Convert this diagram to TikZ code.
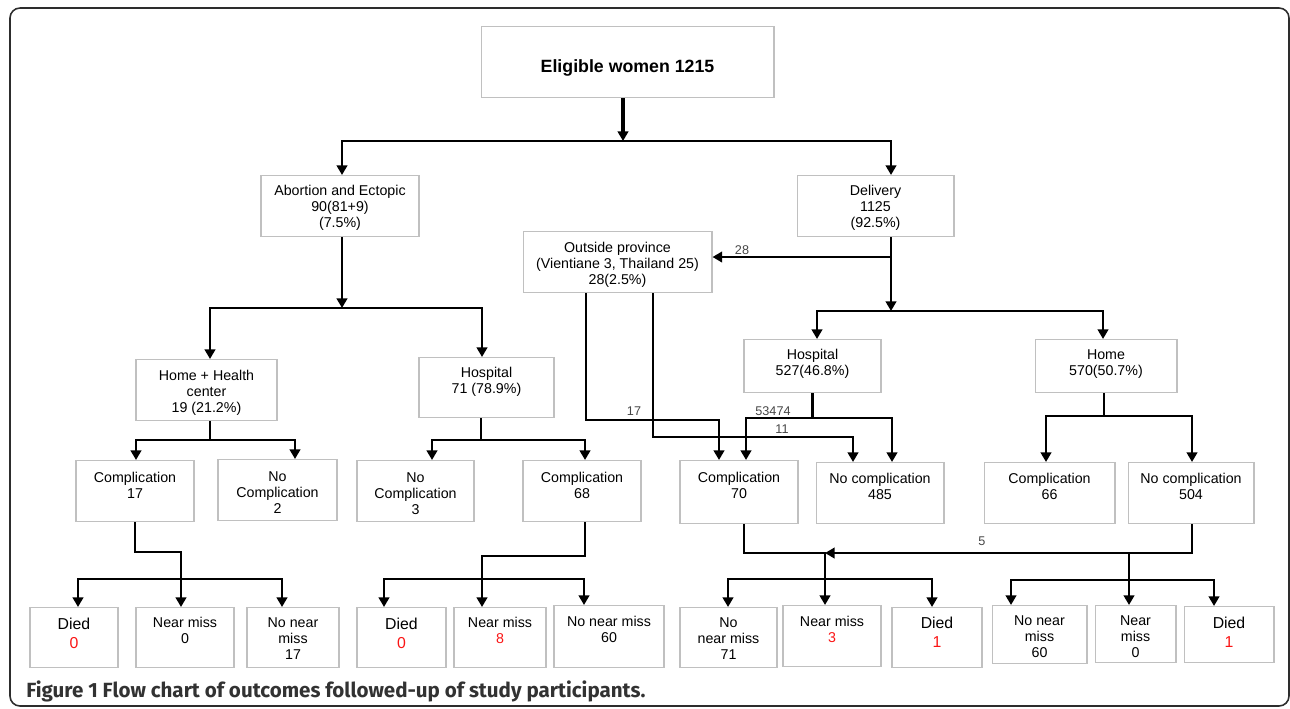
\documentclass[tikz,border=0pt]{standalone}
\usepackage{fontspec}
\setmainfont{Liberation Sans}
\newfontfamily\fcCapFont{Fira Sans}
\usepackage{tikz}
\usetikzlibrary{arrows.meta}
\definecolor{fcedge}{RGB}{192,192,192}
\definecolor{fcred}{RGB}{250,20,20}
\definecolor{fclabel}{RGB}{70,70,70}
\definecolor{fcframe}{RGB}{45,45,45}
\definecolor{fccaption}{RGB}{50,50,50}
\tikzset{
  fcBox/.style={draw=fcedge, line width=0.6pt, anchor=north, align=center,
                inner sep=0pt, font=\fontsize{8.1}{9.1}\selectfont},
  fcDied/.style={fcBox, font=\fontsize{9}{10.6}\selectfont},
  fcTop/.style={fcBox, font=\bfseries\fontsize{10.1}{12}\selectfont},
  fcLine/.style={line width=1.6pt},
  fcBold/.style={-{Triangle[length=5.5pt,width=6pt]}, line width=2.2pt},
  fcArrow/.style={-{Triangle[length=5.5pt,width=6pt]}, line width=1.6pt},
  fcBoth/.style={{Triangle[length=5.5pt,width=6pt]}-{Triangle[length=5.5pt,width=6pt]},
                 line width=1.6pt},
  fcCount/.style={text=fclabel, font=\fontsize{7.2}{8}\selectfont, inner sep=0pt},
  fcFrame/.style={draw=fcframe, line width=0.9pt, rounded corners=0.2cm},
  fcCaption/.style={text=fccaption, font=\fcCapFont\bfseries\fontsize{11.7}{13}\selectfont,
                    inner sep=0pt, anchor=base west}
}

\begin{document}
\begin{tikzpicture}[x=0.02cm,y=-0.02cm]
  \useasboundingbox (0,0) rectangle (1290,708);
  \draw[fcFrame] (10,8) rectangle (1289,706);

  % first two levels
  \node[fcTop] (elig) at (627.5,26) [minimum width=5.86cm, text height=0.92cm, text depth=0.50cm] {Eligible women 1215};
  \node[fcBox] (abort) at (340,175) [minimum width=3.16cm, text height=1.04cm, text depth=0.18cm] {Abortion and Ectopic\\90(81+9)\\(7.5\%)};
  \node[fcBox] (deliv) at (875.5,175) [minimum width=3.14cm, text height=1.04cm, text depth=0.18cm] {Delivery\\1125\\(92.5\%)};
  \node[fcBox] (outprov) at (617.5,231) [minimum width=3.78cm, text height=1.06cm, text depth=0.16cm] {Outside province\\(Vientiane 3, Thailand 25)\\28(2.5\%)};

  % place of delivery
  \node[fcBox] (hhc) at (206.5,359) [minimum width=2.82cm, text height=1.06cm, text depth=0.16cm] {Home + Health\\center\\19 (21.2\%)};
  \node[fcBox] (hosp71) at (486.5,357) [minimum width=2.70cm, text height=0.72cm, text depth=0.48cm] {Hospital\\71 (78.9\%)};
  \node[fcBox] (hosp527) at (812.5,339) [minimum width=2.74cm, text height=0.72cm, text depth=0.34cm] {Hospital\\527(46.8\%)};
  \node[fcBox] (home) at (1106,339) [minimum width=2.84cm, text height=0.72cm, text depth=0.34cm] {Home\\570(50.7\%)};

  % complications
  \node[fcBox] (comp17) at (135,460) [minimum width=2.36cm, text height=0.76cm, text depth=0.46cm] {Complication\\17};
  \node[fcBox] (nocomp2) at (277.5,459) [minimum width=2.38cm, text height=1.08cm, text depth=0.14cm] {No\\Complication\\2};
  \node[fcBox] (nocomp3) at (415.5,460) [minimum width=2.34cm, text height=1.08cm, text depth=0.14cm] {No\\Complication\\3};
  \node[fcBox] (comp68) at (582,460) [minimum width=2.36cm, text height=0.76cm, text depth=0.46cm] {Complication\\68};
  \node[fcBox] (comp70) at (739,460) [minimum width=2.36cm, text height=0.76cm, text depth=0.50cm] {Complication\\70};
  \node[fcBox] (nocomp485) at (880,462) [minimum width=2.56cm, text height=0.74cm, text depth=0.48cm] {No complication\\485};
  \node[fcBox] (comp66) at (1049.5,462) [minimum width=2.62cm, text height=0.74cm, text depth=0.48cm] {Complication\\66};
  \node[fcBox] (nocomp504) at (1191,462) [minimum width=2.52cm, text height=0.74cm, text depth=0.48cm] {No complication\\504};

  % outcomes
  \node[fcDied] (died0a) at (74,607) [minimum width=1.76cm, text height=0.81cm, text depth=0.39cm] {Died\\\textcolor{fcred}{0}};
  \node[fcBox] (near0a) at (185,607) [minimum width=1.96cm, text height=0.72cm, text depth=0.48cm] {Near miss\\0};
  \node[fcBox] (nonear17) at (293,607) [minimum width=1.84cm, text height=1.04cm, text depth=0.16cm] {No near\\miss\\17};
  \node[fcDied] (died0b) at (401.5,607) [minimum width=1.78cm, text height=0.81cm, text depth=0.39cm] {Died\\\textcolor{fcred}{0}};
  \node[fcBox] (near8) at (500,607) [minimum width=1.84cm, text height=0.72cm, text depth=0.48cm] {Near miss\\\textcolor{fcred}{8}};
  \node[fcBox] (nonear60a) at (609,605) [minimum width=2.20cm, text height=0.74cm, text depth=0.50cm] {No near miss\\60};
  \node[fcBox] (nonear71) at (728.5,607) [minimum width=1.94cm, text height=1.04cm, text depth=0.16cm] {No\\near miss\\71};
  \node[fcBox] (near3) at (832,605) [minimum width=1.96cm, text height=0.74cm, text depth=0.48cm] {Near miss\\\textcolor{fcred}{3}};
  \node[fcDied] (died1a) at (937,607) [minimum width=1.80cm, text height=0.79cm, text depth=0.41cm] {Died\\\textcolor{fcred}{1}};
  \node[fcBox] (nonear60b) at (1039.5,605) [minimum width=1.90cm, text height=1.04cm, text depth=0.12cm] {No near\\miss\\60};
  \node[fcBox] (near0b) at (1135.5,605) [minimum width=1.62cm, text height=1.04cm, text depth=0.10cm] {Near\\miss\\0};
  \node[fcDied] (died1b) at (1229,606) [minimum width=1.80cm, text height=0.81cm, text depth=0.31cm] {Died\\\textcolor{fcred}{1}};

  % junctions
  \coordinate (j0) at (623,141);
  \coordinate (j0l) at (342,141);
  \coordinate (j0r) at (891,141);
  \coordinate (j1) at (342,308);
  \coordinate (j1l) at (210,308);
  \coordinate (j1r) at (482,308);
  \coordinate (j28) at (891,257);
  \coordinate (j2) at (891,311);
  \coordinate (j2l) at (817,311);
  \coordinate (j2r) at (1103,311);
  \coordinate (hc) at (210,440);
  \coordinate (hcl) at (136,440);
  \coordinate (hcr) at (295,440);
  \coordinate (ho) at (481,440);
  \coordinate (hol) at (432,440);
  \coordinate (hor) at (585,440);
  \coordinate (o1) at (586,420);
  \coordinate (o1e) at (719,420);
  \coordinate (o2) at (653,437);
  \coordinate (o2e) at (853,437);
  \coordinate (h5l) at (746,418);
  \coordinate (h5r) at (892,418);
  \coordinate (hm) at (1104,416);
  \coordinate (hml) at (1046,416);
  \coordinate (hmr) at (1192,416);
  \coordinate (k1) at (181,552);
  \coordinate (b1l) at (78,579);
  \coordinate (b1r) at (282,579);
  \coordinate (k2) at (482,556);
  \coordinate (b2l) at (384,579);
  \coordinate (b2r) at (584,579);
  \coordinate (k3a) at (744,553);
  \coordinate (k3) at (825,553);
  \coordinate (b3l) at (728,579);
  \coordinate (b3r) at (932,579);
  \coordinate (k4) at (1129,553);
  \coordinate (b4l) at (1011,580);
  \coordinate (b4r) at (1214,580);

  % connectors
  \draw[fcBold] (j0 |- elig.south) -- (j0);
  \draw[fcBoth] (j0l |- abort.north) -- (j0l) -- (j0r) -- (j0r |- deliv.north);
  \draw[fcArrow] (j1 |- abort.south) -- (j1);
  \draw[fcBoth] (j1l |- hhc.north) -- (j1l) -- (j1r) -- (j1r |- hosp71.north);
  \draw[fcArrow] (j2 |- deliv.south) -- (j2);
  \draw[fcArrow] (j28) -- (j28 -| outprov.east);
  \draw[fcBoth] (j2l |- hosp527.north) -- (j2l) -- (j2r) -- (j2r |- home.north);

  \draw[fcLine] (hc |- hhc.south) -- (hc);
  \draw[fcBoth] (hcl |- comp17.north) -- (hcl) -- (hcr) -- (hcr |- nocomp2.north);
  \draw[fcLine] (ho |- hosp71.south) -- (ho);
  \draw[fcBoth] (hol |- nocomp3.north) -- (hol) -- (hor) -- (hor |- comp68.north);

  \draw[fcArrow] (o1 |- outprov.south) -- (o1) -- (o1e) -- (o1e |- comp70.north);
  \draw[fcArrow] (o2 |- outprov.south) -- (o2) -- (o2e) -- (o2e |- nocomp485.north);
  \draw[fcLine] (hosp527.south) -- (hosp527.south |- h5l);
  \draw[fcBoth] (h5l |- comp70.north) -- (h5l) -- (h5r) -- (h5r |- nocomp485.north);
  \draw[fcLine] (hm |- home.south) -- (hm);
  \draw[fcBoth] (hml |- comp66.north) -- (hml) -- (hmr) -- (hmr |- nocomp504.north);

  \draw[fcArrow] (comp17.south) |- (k1) -- (k1 |- near0a.north);
  \draw[fcBoth] (b1l |- died0a.north) -- (b1l) -- (b1r) -- (b1r |- nonear17.north);
  \draw[fcArrow] (hor |- comp68.south) |- (k2) -- (k2 |- near8.north);
  \draw[fcBoth] (b2l |- died0b.north) -- (b2l) -- (b2r) -- (b2r |- nonear60a.north);
  \draw[fcArrow] (k3a |- comp70.south) -- (k3a) -- (k3) -- (k3 |- near3.north);
  \draw[fcBoth] (b3l |- nonear71.north) -- (b3l) -- (b3r) -- (b3r |- died1a.north);
  \draw[fcArrow] (hmr |- nocomp504.south) |- (k3);
  \draw[fcArrow] (k4) -- (k4 |- near0b.north);
  \draw[fcBoth] (b4l |- nonear60b.north) -- (b4l) -- (b4r) -- (b4r |- died1b.north);

  % counts on connectors
  \node[fcCount] (l28) at (742,250) {28};
  \node[fcCount] (l17) at (634,411) {17};
  \node[fcCount] (l53474) at (773,411) {53474};
  \node[fcCount] (l11) at (782,429) {11};
  \node[fcCount] (l5) at (982,541) {5};

  \node[fcCaption] (caption) at (26,697) {Figure 1 Flow chart of outcomes followed-up of study participants.};
\end{tikzpicture}
\end{document}
